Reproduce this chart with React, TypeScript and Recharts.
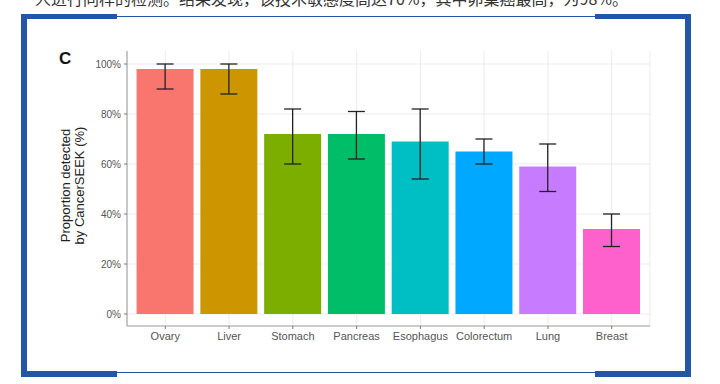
import React from 'react';
import { BarChart, Bar, XAxis, YAxis, CartesianGrid, ErrorBar, Cell } from 'recharts';

const categories = ['Ovary', 'Liver', 'Stomach', 'Pancreas', 'Esophagus', 'Colorectum', 'Lung', 'Breast'];
const proportions = [98, 98, 72, 72, 69, 65, 59, 34];
const ciLower = [90, 88, 60, 62, 54, 60, 49, 27];
const ciUpper = [100, 100, 82, 81, 82, 70, 68, 40];
const barColors = ['#F8766D', '#CD9600', '#7CAE00', '#00BE67', '#00BFC4', '#00A9FF', '#C77CFF', '#FF61CC'];
const yTicks = [0, 20, 40, 60, 80, 100];
const yDomain = [-4.8, 105.2];
const topText = '人进行同样的检测。结果发现，该技术敏感度高达70%，其中卵巢癌最高，为98%。';

const data = categories.map((name, i) => ({
  name,
  value: proportions[i],
  err: [proportions[i] - ciLower[i], ciUpper[i] - proportions[i]],
}));

const FONT = '"Liberation Sans", Arial, Helvetica, sans-serif';
const BLUE = '#2356A6';

const box = (s: React.CSSProperties): React.CSSProperties => ({ position: 'absolute', background: BLUE, ...s });

export default function App() {
  return (
    <div style={{ position: 'absolute', left: 0, top: 0, width: 720, height: 384, overflow: 'hidden', background: '#fff' }}>
      <div
        style={{
          position: 'absolute', left: 35, top: -10, whiteSpace: 'nowrap', fontFamily: '"Noto Sans CJK SC", sans-serif',
          fontSize: 16, lineHeight: '16px', color: '#333',
        }}
      >
        {topText}
      </div>
      {/* frame */}
      <div style={box({ left: 21, top: 14, width: 6, height: 363 })} />
      <div style={box({ left: 685, top: 14, width: 6, height: 363 })} />
      <div style={box({ left: 21, top: 14, width: 96, height: 5 })} />
      <div style={box({ left: 595, top: 14, width: 96, height: 5 })} />
      <div style={box({ left: 117, top: 15.5, width: 478, height: 1.3 })} />
      <div style={box({ left: 21, top: 371, width: 96, height: 6 })} />
      <div style={box({ left: 595, top: 371, width: 96, height: 6 })} />
      <div style={box({ left: 117, top: 372, width: 478, height: 1.3 })} />

      <div style={{ position: 'absolute', left: 59, top: 48.5, fontFamily: FONT, fontWeight: 'bold', fontSize: 17, color: '#111' }}>C</div>

      <div
        style={{
          position: 'absolute', left: 72, top: 188, width: 200, marginLeft: -100, marginTop: -16,
          transform: 'rotate(-90deg)', textAlign: 'center', fontFamily: FONT, fontSize: 13, lineHeight: '13.5px', color: '#222',
        }}
      >
        <div>Proportion detected</div>
        <div>by CancerSEEK (%)</div>
      </div>

      <div style={{ position: 'absolute', left: 0, top: 0 }}>
        <BarChart
          width={720}
          height={384}
          data={data}
          margin={{ top: 51, right: 70, bottom: 28, left: 67 }}
          barCategoryGap="5%"
        >
          <CartesianGrid stroke="#EBEBEB" strokeWidth={1} horizontalValues={yTicks} />
          <XAxis
            dataKey="name"
            type="category"
            height={30}
            padding={{ left: 6.4, right: 6.4 }}
            tick={{ fontSize: 11, fill: '#555', fontFamily: FONT }}
            tickLine={{ stroke: '#777' }}
            tickSize={3}
            tickMargin={3}
            axisLine={{ stroke: '#999' }}
            interval={0}
          />
          <XAxis
            xAxisId="top"
            dataKey="name"
            orientation="top"
            height={0}
            padding={{ left: 6.4, right: 6.4 }}
            tick={false}
            tickLine={false}
            axisLine={{ stroke: '#999' }}
          />
          <YAxis
            type="number"
            width={60}
            domain={yDomain}
            ticks={yTicks}
            allowDataOverflow
            tickFormatter={(v: number) => `${v}%`}
            tick={{ fontSize: 10, fill: '#555', fontFamily: FONT }}
            tickLine={{ stroke: '#777' }}
            tickSize={3}
            tickMargin={3}
            axisLine={{ stroke: '#999' }}
          />
          <YAxis
            yAxisId="r"
            orientation="right"
            type="number"
            width={0}
            domain={yDomain}
            allowDataOverflow
            tick={false}
            tickLine={false}
            axisLine={{ stroke: '#999' }}
          />
          <Bar dataKey="value" isAnimationActive={false}>
            {data.map((d, i) => (
              <Cell key={d.name} fill={barColors[i]} />
            ))}
            <ErrorBar dataKey="err" width={8.5} stroke="#222" strokeWidth={1.3} direction="y" />
          </Bar>
        </BarChart>
      </div>
    </div>
  );
}
